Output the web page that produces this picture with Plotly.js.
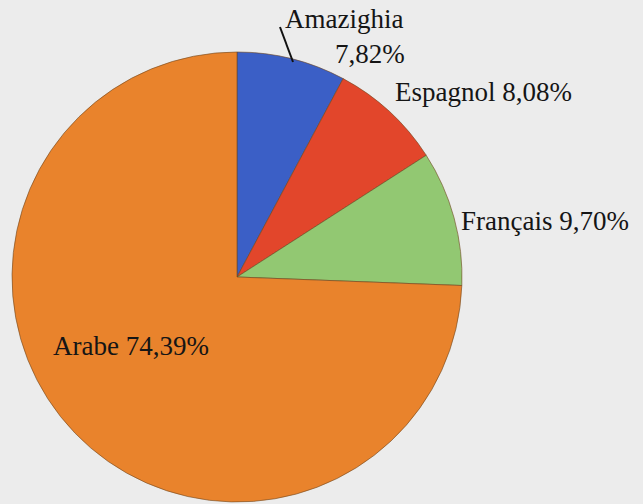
<!DOCTYPE html>
<html><head><meta charset="utf-8">
<script src="https://cdn.plot.ly/plotly-3.0.1.min.js"></script>
<style>html,body{margin:0;padding:0;background:#ececec}</style>
</head><body><div id="chart" style="width:643px;height:504px"></div>
<script>
const languages = ["Amazighia", "Espagnol", "Français", "Arabe"];
const shares = [7.82, 8.08, 9.70, 74.39];
const colors = ["#3b5fc6", "#e2462b", "#92c872", "#e9832c"];

const fmt = v => v.toFixed(2).replace('.', ',') + '%';
const labelText = [
  languages[0],
  fmt(shares[0]),
  languages[1] + ' ' + fmt(shares[1]),
  languages[2] + ' ' + fmt(shares[2]),
  languages[3] + ' ' + fmt(shares[3])
];
const labelPos = [
  {x: 283, y: 19},
  {x: 333, y: 54},
  {x: 393, y: 92},
  {x: 459, y: 221},
  {x: 51, y: 346}
];

const W = 643, H = 504;
const FONT = "Liberation Serif";
const annotations = labelText.map((t, i) => ({
  text: t, x: labelPos[i].x / W, y: 1 - labelPos[i].y / H,
  xref: 'paper', yref: 'paper', xanchor: 'left', yanchor: 'middle',
  showarrow: false,
  font: {family: FONT, size: 27, color: '#151515'}
}));

const trace = {
  type: 'pie', labels: languages, values: shares, sort: false, direction: 'clockwise', rotation: 0,
  marker: {colors: colors, line: {color: 'rgba(110,70,30,0.6)', width: 1}},
  textinfo: 'none', showlegend: false,
  domain: {x: [12 / W, 462 / W], y: [2 / H, 452 / H]}
};

const layout = {
  width: W, height: H, margin: {l: 0, r: 0, t: 0, b: 0},
  paper_bgcolor: '#ececec', plot_bgcolor: '#ececec',
  shapes: [{type: 'line', xref: 'paper', yref: 'paper', x0: 280 / W, y0: 1 - 27 / H, x1: 293 / W, y1: 1 - 62 / H,
    line: {color: '#111', width: 2}}]
};
Plotly.newPlot('chart', [trace], layout, {staticPlot: true}).then(gd => {
  return Plotly.relayout(gd, {annotations: annotations});
});
</script></body></html>
